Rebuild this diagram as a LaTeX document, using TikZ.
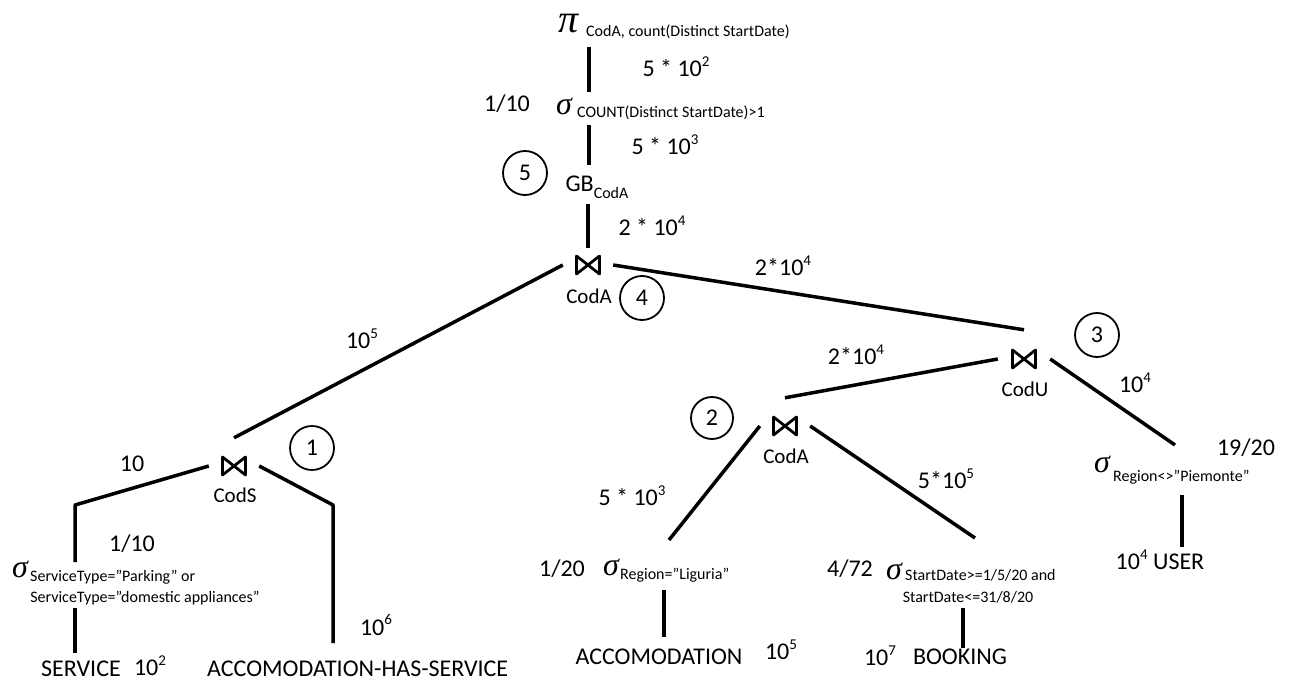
\documentclass[tikz,border=0pt]{standalone}
\usepackage{fontspec}
\setmainfont{Carlito}
\newfontfamily\grk{Liberation Serif}
\newcommand{\sups}[1]{\raisebox{0.42em}{\fontsize{15}{15}\selectfont #1}}
\tikzset{
  lbl/.style={inner sep=0pt, font=\fontsize{24}{28}\selectfont},
  sub/.style={inner sep=0pt, font=\fontsize{16}{19}\selectfont},
  jlbl/.style={inner sep=0pt, font=\fontsize{21}{24}\selectfont},
  sig/.style={inner sep=0pt, font=\fontsize{32}{32}\grk\itshape},
  num/.style={circle, draw, line width=1.8pt, minimum size=44pt, inner sep=0pt, font=\fontsize{24}{28}\selectfont},
  edge/.style={line width=3.5pt},
  jn/.style={inner sep=0pt, minimum width=50pt,
    path picture={\draw[line width=2.8pt, line join=round]
      ([shift={(-11.5pt,-9pt)}]path picture bounding box.center) --
      ([shift={(11.5pt,9pt)}]path picture bounding box.center) --
      ([shift={(11.5pt,-9pt)}]path picture bounding box.center) --
      ([shift={(-11.5pt,9pt)}]path picture bounding box.center) -- cycle;}},
}
\begin{document}
\begin{tikzpicture}[x=1pt,y=-1pt]
\useasboundingbox (0,0) rectangle (1290,684);

% ---- top: projection, selection, group by
\node[sig, font=\fontsize{40}{40}\grk\itshape] (pi) at (569,24) {π};
\node[sub, anchor=west] (pisub) at (586,32) {CodA, count(Distinct StartDate)};
\node[lbl] (c1) at (676,67) {5 * 10\sups{2}};
\node[lbl] (f1) at (507,104) {1/10};
\node[sig] (s1) at (564,106) {σ};
\node[sub, anchor=west] (s1sub) at (577,113) {COUNT(Distinct StartDate)>1};
\node[lbl] (c2) at (665,145) {5 * 10\sups{3}};
\node[num] (n5) at (525,173) {5};
\node[lbl] (gb) at (597,187) {GB\raisebox{-0.28em}{\fontsize{16}{16}\selectfont CodA}};
\node[lbl] (c3) at (652,226) {2 * 10\sups{4}};

% ---- join 4
\node[jn, minimum height=34pt] (j4) at (588,265) {};
\node[jlbl] (j4l) at (589,296) {CodA};
\node[num] (n4) at (642,298) {4};
\node[lbl] (c4) at (362,339) {10\sups{5}};
\node[lbl] (c5) at (783,266) {2*10\sups{4}};

% ---- join 3
\node[jn, minimum width=52pt, minimum height=58pt] (j3) at (1024,359) {};
\node[jlbl] (j3l) at (1025,389) {CodU};
\node[num] (n3) at (1097,335) {3};
\node[lbl] (c6) at (856,355) {2*10\sups{4}};
\node[lbl] (c7) at (1135,383) {10\sups{4}};
\node[lbl] (f2) at (1246,448) {19/20};
\node[sig] (sP) at (1102,464) {σ};
\node[sub, anchor=west] (sPsub) at (1113,477) {Region<>”Piemonte”};
\node[lbl] (user) at (1160,560) {10\sups{4} USER};

% ---- join 2
\node[jn, minimum height=56pt] (j2) at (785,426) {};
\node[jlbl] (j2l) at (786,456) {CodA};
\node[num, minimum size=42pt] (n2) at (712,418) {2};
\node[lbl] (c8) at (632,496) {5 * 10\sups{3}};
\node[lbl] (c9) at (946,479) {5*10\sups{5}};
\node[lbl] (f3) at (562,569) {1/20};
\node[sig] (sL) at (611,567) {σ};
\node[sub, anchor=west] (sLsub) at (620,575) {Region=”Liguria”};
\node[lbl] (accom) at (659,657) {ACCOMODATION};
\node[lbl] (c10) at (781,650) {10\sups{5}};
\node[lbl] (f4) at (850,569) {4/72};
\node[sig] (sD) at (894,571) {σ};
\node[sub, anchor=west] (sDsub) at (905,575) {StartDate>=1/5/20 and};
\node[sub] (sDsub2) at (968,597) {StartDate<=31/8/20};
\node[lbl] (c11) at (880,656) {10\sups{7}};
\node[lbl] (book) at (960,657) {BOOKING};

% ---- join 1
\node[jn, minimum height=56pt] (j1) at (234,466) {};
\node[jlbl] (j1l) at (235,495) {CodS};
\node[num] (n1) at (312,448) {1};
\node[lbl] (c12) at (132,464) {10};
\node[lbl] (f5) at (132,544) {1/10};
\node[sig] (sS) at (20,569) {σ};
\node[sub, anchor=west] (sSsub) at (30,577) {ServiceType=”Parking” or};
\node[sub] (sSsub2) at (145,598) {ServiceType=”domestic appliances”};
\node[lbl] (serv) at (81,669) {SERVICE};
\node[lbl] (c13) at (150,666) {10\sups{2}};
\node[lbl, anchor=west] (ahs) at (207,669) {ACCOMODATION-HAS-SERVICE};
\node[lbl] (c14) at (376,625) {10\sups{6}};

% ---- connector end points
\coordinate (pi-b) at (589,47);
\coordinate (s1-t) at (589,92);
\coordinate (s1-b) at (589,125);
\coordinate (gb-t) at (589,165);
\coordinate (gb-b) at (588,204);
\coordinate (sP-t) at (1175,445);
\coordinate (sP-b) at (1182,495);
\coordinate (user-t) at (1182,547);
\coordinate (sL-t) at (669,540);
\coordinate (sL-b) at (664,590);
\coordinate (accom-t) at (664,637);
\coordinate (sD-t) at (975,538);
\coordinate (sD-b) at (963,608);
\coordinate (book-t) at (963,648);
\coordinate (k1) at (75,505);
\coordinate (sS-t) at (75,562);
\coordinate (sS-b) at (75,608);
\coordinate (serv-t) at (75,653);
\coordinate (k2) at (333,505);
\coordinate (ahs-t) at (333,643);

% ---- connectors
\draw[edge] (pi-b) -- (s1-t);
\draw[edge] (s1-b) -- (gb-t);
\draw[edge] (gb-b) -- (j4.north);
\draw[edge] (j4.west) -- (j1.north);
\draw[edge] (j4.east) -- (j3.north);
\draw[edge] (j2.north) -- (j3.west);
\draw[edge] (j3.east) -- (sP-t);
\draw[edge] (sP-b) -- (user-t);
\draw[edge] (j2.west) -- (sL-t);
\draw[edge] (sL-b) -- (accom-t);
\draw[edge] (j2.east) -- (sD-t);
\draw[edge] (sD-b) -- (book-t);
\draw[edge, line join=round] (j1.west) -- (k1) -- (sS-t);
\draw[edge] (sS-b) -- (serv-t);
\draw[edge, line join=round] (j1.east) -- (k2) -- (ahs-t);
\end{tikzpicture}
\end{document}
